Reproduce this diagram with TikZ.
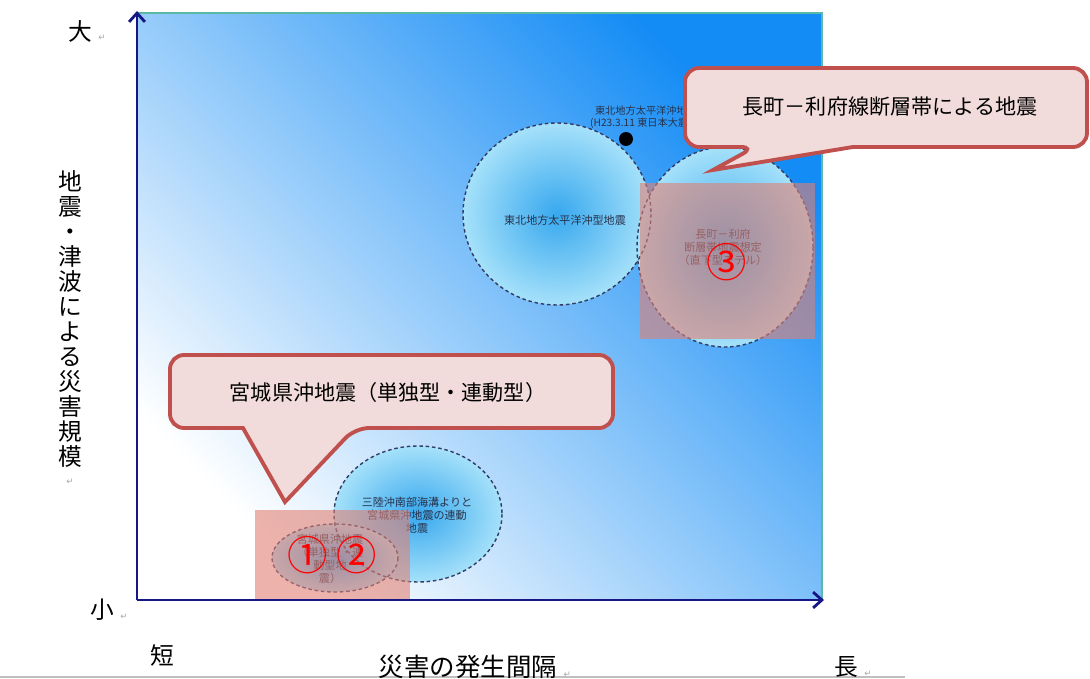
\documentclass[tikz,border=0pt]{standalone}
\usepackage{fontspec}
\setmainfont{Noto Sans CJK JP}
\newfontfamily\marksfont{DejaVu Sans}
\usetikzlibrary{positioning, arrows.meta}

\definecolor{axisnavy}{RGB}{22,22,135}
\definecolor{skyblue}{RGB}{20,140,245}
\definecolor{quakecore}{RGB}{55,168,238}
\definecolor{quakerim}{RGB}{214,250,255}
\definecolor{rimline}{RGB}{50,60,100}
\definecolor{labelgray}{RGB}{40,50,75}
\definecolor{bandpink}{RGB}{225,128,115}
\definecolor{balloonfill}{RGB}{242,220,219}
\definecolor{balloonline}{RGB}{192,80,77}
\definecolor{edgeteal}{RGB}{90,185,165}

\pgfdeclareradialshading{quakeglow}{\pgfpoint{0bp}{0bp}}{%
  color(0bp)=(quakecore); color(36bp)=(quakerim); color(50bp)=(quakerim)}

\begin{document}
\begin{tikzpicture}[x=0.02cm, y=-0.02cm,
  quake/.style={shading=quakeglow},
  rim/.style={draw=rimline, line width=0.8pt, dash pattern=on 2pt off 1.6pt},
  band/.style={fill=bandpink, fill opacity=0.6},
  tag/.style={text=labelgray, font=\fontsize{6.3}{7.4}\selectfont, align=center},
  numtag/.style={text=red, font=\fontsize{23}{23}\selectfont},
  balloon/.style={draw=balloonline, fill=balloonfill, line width=2.2pt, rounded corners=8pt},
  balloontext/.style={font=\fontsize{12}{12}\selectfont},
  axisline/.style={draw=axisnavy, line width=1.6pt, -{Straight Barb[length=5pt, width=9pt]}},
  axislabel/.style={font=\fontsize{13.5}{13.5}\selectfont},
  retmark/.style={text=black!35, inner sep=0pt, font=\marksfont\fontsize{5}{5}\selectfont}]

  \useasboundingbox (0,0) rectangle (1090,679);

  % chart background
  \shade[bottom color=white, top color=skyblue, shading angle=-45]
    (137,13) rectangle (822,600);
  \draw[edgeteal, line width=0.6pt] (137,13) -- (822,13) -- (822,600);
  \draw[black!25, line width=0.8pt] (0,677) -- (905,677);

  % quake zones
  \foreach \cx/\cy/\rx/\ry in {557/214/94/91, 725/247/88/100, 418/514/84/68, 335/558/63/34}
    \shade[quake] (\cx,\cy) ellipse [x radius=\rx, y radius=\ry];
  \foreach \cx/\cy/\rx/\ry in {557/214/94/91, 725/247/88/100, 418/514/84/68, 335/558/63/34}
    \draw[rim] (\cx,\cy) ellipse [x radius=\rx, y radius=\ry];

  \node[tag] (tohokutag) at (565,220) {東北地方太平洋沖型地震};
  \node[tag] (faulttag) at (723,247) {長町－利府\\断層帯地震想定\\（直下型モデル）};
  \node[tag] (sanrikutag) at (417,515) {三陸沖南部海溝よりと\\宮城県沖地震の連動\\地震};
  \node[tag] (miyagitag) at (330,559) {宮城県沖地震\\（単独型・連\\動型地\\震）};

  \node[circle, fill=black, minimum size=0.28cm, inner sep=0pt] (epicenter) at (626,139) {};
  \node[tag, font=\fontsize{5.8}{7}\selectfont] (march11) at (646,117)
    {東北地方太平洋沖地震\\(H23.3.11 東日本大震災)};

  % highlighted cases
  \fill[band] (255,510) rectangle (410,600);
  \fill[band] (640,183) rectangle (815,339);
  \node[numtag] (caseone) at (308,555) {①};
  \node[numtag] (casetwo) at (357,555) {②};
  \node[numtag] (casethree) at (727,262) {③};

  % axes
  \coordinate (origin) at (137,600);
  \coordinate (ytip) at (137,11);
  \coordinate (xtip) at (824,600);
  \draw[axisline] (origin) -- (ytip);
  \draw[axisline] (origin) -- (xtip);

  \node[axislabel] (large) at (80,31) {大};
  \node[axislabel] (small) at (102,610) {小};
  \node[axislabel] (short) at (162,655) {短};
  \node[axislabel, font=\fontsize{14.5}{14.5}\selectfont] (interval) at (468,667) {災害の発生間隔};
  \node[axislabel] (long) at (846,667) {長};
  \node[axislabel, align=center, font=\fontsize{13.5}{14.2}\selectfont] (scale) at (70,319)
    {地\\震\\・\\津\\波\\に\\よ\\る\\災\\害\\規\\模};
  \node[retmark, anchor=south west] (largeret) at ([yshift=4pt]large.south east) {↵};
  \node[retmark, anchor=south west] (smallret) at ([yshift=4pt]small.south east) {↵};
  \node[retmark, anchor=south west] (intervalret) at ([yshift=4pt]interval.south east) {↵};
  \node[retmark, anchor=south west] (longret) at ([yshift=4pt]long.south east) {↵};
  \node[retmark, below=3pt of scale] (scaleret) {↵};

  % callouts
  \draw[balloon] (755,147) [sharp corners] -- (713,170) -- (853,147) [rounded corners=8pt]
    -- (1087,147) -- (1087,68) -- (685,68) -- (685,147) -- cycle;
  \node[balloontext] (faultnote) at (890,107) {長町－利府線断層帯による地震};
  \draw[balloon] (355,428) [sharp corners] -- (285,502) -- (243,428) [rounded corners=8pt]
    -- (170,428) -- (170,355) -- (613,355) -- (613,428) -- cycle;
  \node[balloontext] (miyaginote) at (388,392) {宮城県沖地震（単独型・連動型）};
\end{tikzpicture}
\end{document}
